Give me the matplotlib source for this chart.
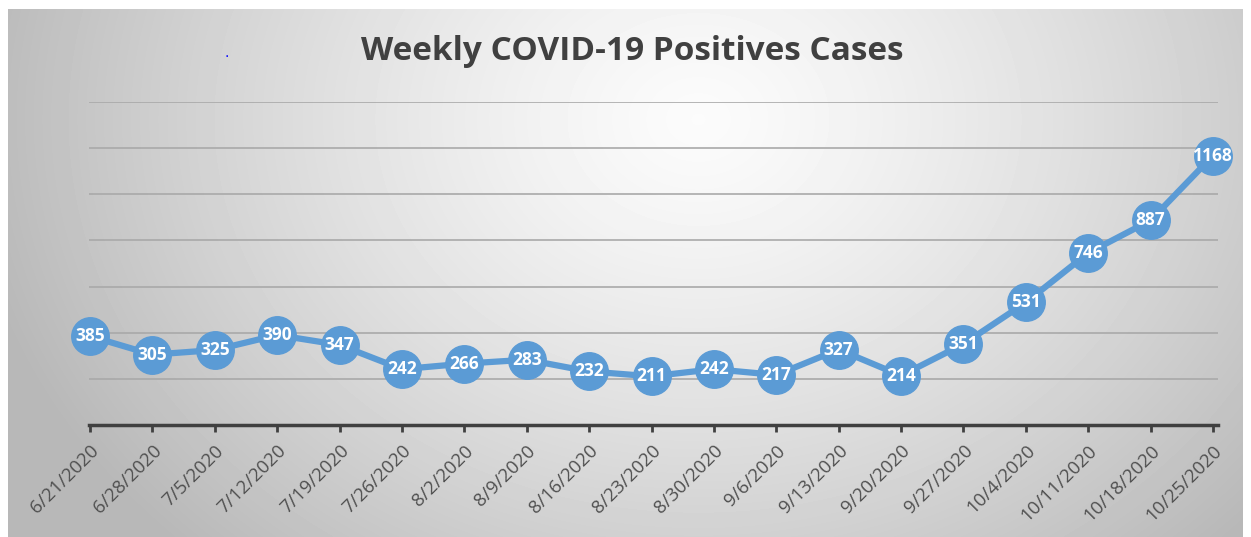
import numpy as np
import matplotlib.pyplot as plt

dates = ['6/21/2020', '6/28/2020', '7/5/2020', '7/12/2020', '7/19/2020', '7/26/2020',
         '8/2/2020', '8/9/2020', '8/16/2020', '8/23/2020', '8/30/2020', '9/6/2020',
         '9/13/2020', '9/20/2020', '9/27/2020', '10/4/2020', '10/11/2020', '10/18/2020',
         '10/25/2020']
cases = [385, 305, 325, 390, 347, 242, 266, 283, 232, 211, 242, 217, 327, 214,
         351, 531, 746, 887, 1168]

W, H = 1251, 537
fig = plt.figure(figsize=(W / 100, H / 100), dpi=100)
fig.patch.set_facecolor('white')

# gradient panel behind the chart
bg = fig.add_axes([8 / W, 0, (1243 - 8) / W, (537 - 9) / H])
bg.axis('off')
yy, xx = np.mgrid[0:528, 0:1235]
d = np.sqrt(((xx - 690) / 640) ** 2 + ((yy - 110) / 520) ** 2)
shade = 0.985 - 0.22 * np.clip(d, 0, 1.15) ** 1.3
bg.imshow(shade, cmap='gray', vmin=0, vmax=1, aspect='auto', interpolation='bilinear')

ax = fig.add_axes([89 / W, (537 - 425) / H, (1218 - 89) / W, (425 - 102) / H])
ax.patch.set_alpha(0)
x = np.arange(len(dates))
ax.set_xlim(-0.016, len(dates) - 1 + 0.08)
ax.set_ylim(0, 1400)

for g in range(200, 1401, 200):
    ax.axhline(g, color='#a9a9a9', lw=1.2, zorder=1)

ax.plot(x, cases, color='#5b9bd5', lw=4.5, marker='o', markersize=27,
        markerfacecolor='#5b9bd5', markeredgecolor='#5b9bd5', zorder=3, clip_on=False)
for xi, v in zip(x, cases):
    ax.text(xi, v, str(v), ha='center', va='center', color='white',
            fontsize=12.5, fontweight='bold', family='Open Sans', zorder=4)

for s in ['top', 'right', 'left']:
    ax.spines[s].set_visible(False)
ax.spines['bottom'].set_color('#404040')
ax.spines['bottom'].set_linewidth(2.5)
ax.set_yticks([])
ax.set_xticks(x)
ax.set_xticklabels(dates, rotation=45, ha='right', rotation_mode='anchor',
                   fontsize=13.5, color='#505050', family='Open Sans')
ax.tick_params(axis='x', length=5, width=2, color='#404040', pad=7)

fig.text(632 / W, 1 - 52 / H, 'Weekly COVID-19 Positives Cases', ha='center', va='center',
         fontsize=24, fontweight='bold', color='#404040', family='Open Sans')
fig.text(227 / W, 1 - 57 / H, '.', color='blue', fontsize=10, ha='center', va='baseline')

fig.savefig('out.png', dpi=100)
